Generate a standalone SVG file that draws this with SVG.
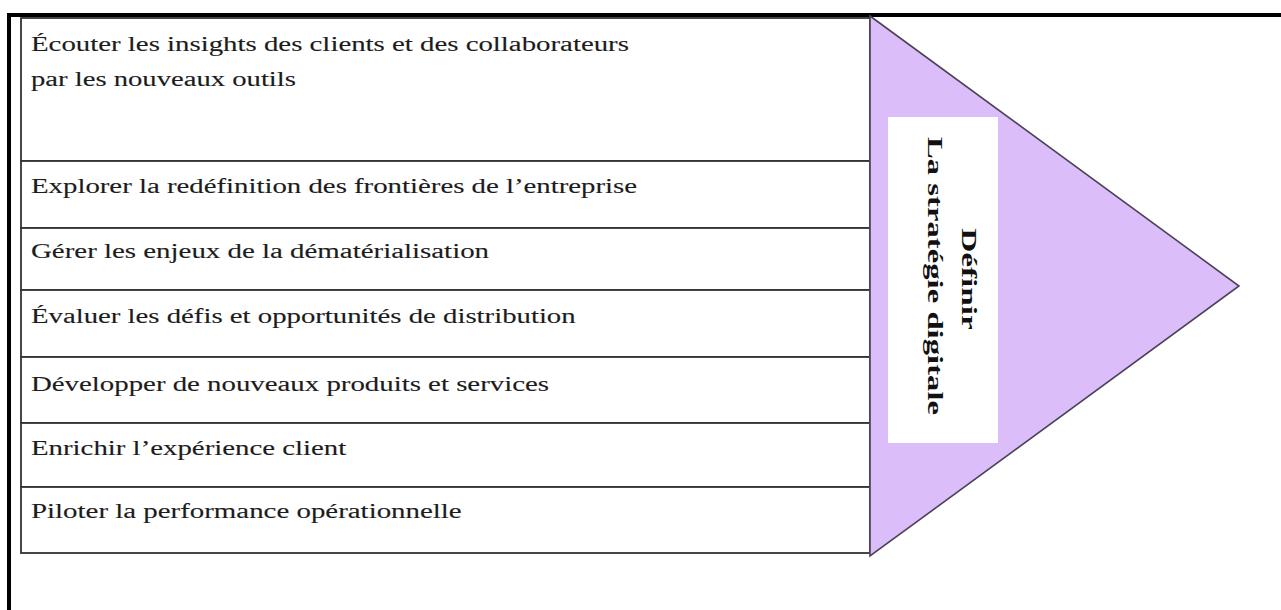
<svg xmlns="http://www.w3.org/2000/svg" width="1281" height="610" viewBox="0 0 1281 610">
  <style>
    .frame { stroke: #000; stroke-width: 4; fill: none; }
    .cell { fill: #fff; stroke: #333; stroke-width: 1.8; }
    .item { font-family: "Liberation Serif", "Times New Roman", serif; font-size: 20.5px; fill: #1c1c1c; stroke: #1c1c1c; stroke-width: 0.12; }
    .arrow { fill: #dbbef9; stroke: #4a4256; stroke-width: 1.6; stroke-linejoin: miter; }
    .label-box { fill: #fff; stroke: none; }
    .label { font-family: "Liberation Serif", "Times New Roman", serif; font-size: 20px; font-weight: bold; fill: #111; text-anchor: middle; }
  </style>
  <rect width="1281" height="610" fill="#fff"/>

  <!-- outer frame: top rule and left rule -->
  <g id="frame">
    <line class="frame" x1="7" y1="15" x2="1281" y2="15"/>
    <line class="frame" x1="9" y1="13" x2="9" y2="610"/>
  </g>

  <!-- list of actions, one row per action; wide serif set by a horizontal scale -->
  <g id="actions">
    <g id="row-1">
      <rect class="cell" x="21" y="18" width="849" height="143"/>
      <text class="item" transform="translate(31,51) scale(1.48,1)" textLength="404" lengthAdjust="spacingAndGlyphs">Écouter les insights des clients et des collaborateurs</text>
      <text class="item" transform="translate(31,86) scale(1.48,1)" textLength="179" lengthAdjust="spacingAndGlyphs">par les nouveaux outils</text>
    </g>
    <g id="row-2">
      <rect class="cell" x="21" y="161" width="849" height="67"/>
      <text class="item" transform="translate(31,193) scale(1.48,1)" textLength="409.5" lengthAdjust="spacingAndGlyphs">Explorer la redéfinition des frontières de l’entreprise</text>
    </g>
    <g id="row-3">
      <rect class="cell" x="21" y="228" width="849" height="62"/>
      <text class="item" transform="translate(31,258) scale(1.48,1)" textLength="309.5" lengthAdjust="spacingAndGlyphs">Gérer les enjeux de la dématérialisation</text>
    </g>
    <g id="row-4">
      <rect class="cell" x="21" y="290" width="849" height="67"/>
      <text class="item" transform="translate(31,323) scale(1.48,1)" textLength="368" lengthAdjust="spacingAndGlyphs">Évaluer les défis et opportunités de distribution</text>
    </g>
    <g id="row-5">
      <rect class="cell" x="21" y="357" width="849" height="66"/>
      <text class="item" transform="translate(31,391) scale(1.48,1)" textLength="350" lengthAdjust="spacingAndGlyphs">Développer de nouveaux produits et services</text>
    </g>
    <g id="row-6">
      <rect class="cell" x="21" y="423" width="849" height="64"/>
      <text class="item" transform="translate(31,455) scale(1.48,1)" textLength="213" lengthAdjust="spacingAndGlyphs">Enrichir l’expérience client</text>
    </g>
    <g id="row-7">
      <rect class="cell" x="21" y="487" width="849" height="66"/>
      <text class="item" transform="translate(31,518) scale(1.48,1)" textLength="291" lengthAdjust="spacingAndGlyphs">Piloter la performance opérationnelle</text>
    </g>
  </g>

  <!-- arrowhead carrying the goal, label set vertically -->
  <g id="goal">
    <polygon class="arrow" points="870,16 1239,286 870,556"/>
    <rect class="label-box" x="888" y="117" width="110" height="326"/>
    <text class="label" transform="translate(962,279) rotate(90) scale(1.64,1)" textLength="62" lengthAdjust="spacingAndGlyphs">Définir</text>
    <text class="label" transform="translate(928,276) rotate(90) scale(1.64,1)" textLength="169.5" lengthAdjust="spacingAndGlyphs">La stratégie digitale</text>
  </g>
</svg>
